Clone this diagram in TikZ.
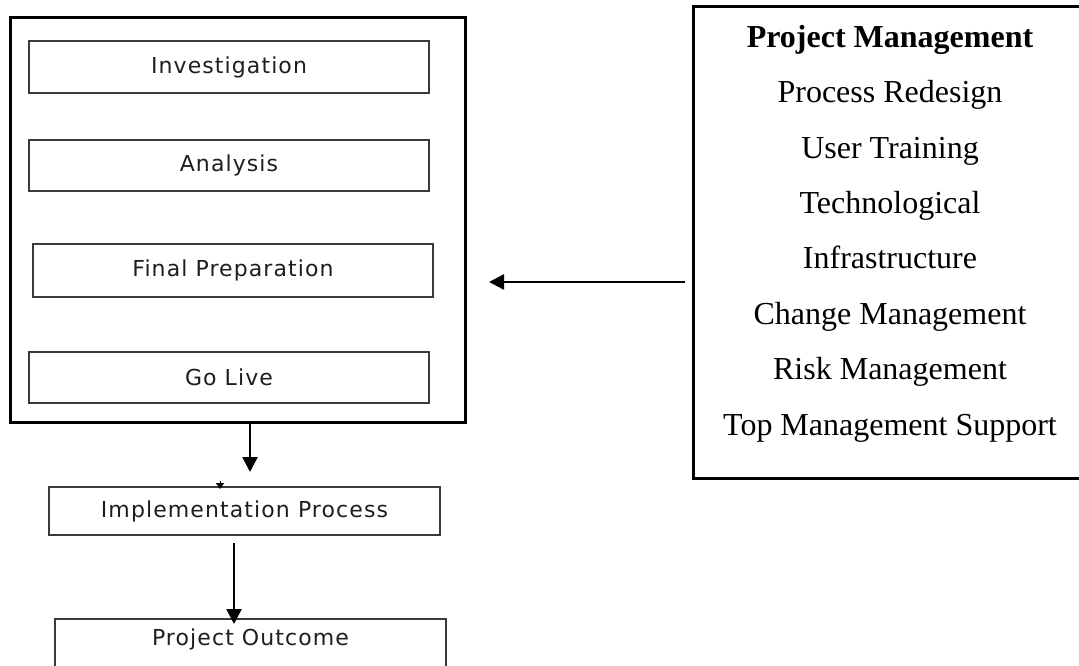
\documentclass[tikz,border=0pt]{standalone}
\usepackage{fontspec}
\setmainfont{Liberation Serif}
\newfontfamily\stagefont[LetterSpace=5]{DejaVu Sans}
\usetikzlibrary{arrows.meta,calc}
\definecolor{stageline}{HTML}{3A3A3A}
\definecolor{stagetext}{HTML}{1E1E1E}
\begin{document}
\begin{tikzpicture}[x=1pt,y=-1pt,
  stagebox/.style={draw=stageline, line width=2pt, inner sep=0pt,
    text=stagetext, font=\stagefont\fontsize{22}{26}\selectfont},
  stagelabel/.style={inner sep=0pt, text=stagetext,
    font=\stagefont\fontsize{22}{26}\selectfont},
  framebox/.style={draw=black, line width=3pt, inner sep=0pt},
  factor/.style={anchor=base, inner sep=0pt, font=\fontsize{32}{38}\selectfont},
  arr/.style={draw=black, line width=2.5pt, -{Triangle[length=15pt,width=15pt]}},
  smallarr/.style={draw=black, line width=1pt, -{Triangle[length=6pt,width=8pt]}}]
\useasboundingbox (0,0) rectangle (1079,666);
\clip (0,0) rectangle (1079,666);

% implementation phases
\node[framebox, minimum width=455pt, minimum height=404pt] (outer) at (237.5,220) {};
\node[stagebox, minimum width=400pt, minimum height=52pt] (inv) at (229,67) {Investigation};
\node[stagebox, minimum width=400pt, minimum height=51pt] (ana) at (229,165.5) {Analysis};
\node[stagebox, minimum width=400pt, minimum height=53pt] (fin) at (233,270.5) {Final Preparation};
\node[stagebox, minimum width=400pt, minimum height=51pt] (go) at (229,377.5) {Go Live};

% process and outcome
\node[stagebox, minimum width=391pt, minimum height=48pt] (impl) at (244.5,511) {Implementation Process};
\node[stagebox, minimum width=391pt, minimum height=100pt] (outc) at (250.5,669) {};
\node[stagelabel] (outclabel) at ($(outc.north)+(0,21)$) {Project Outcome};

% critical success factors
\node[framebox, minimum width=397pt, minimum height=471pt] (pm) at (891.5,242.5) {};
\node[factor, font=\fontsize{32}{38}\selectfont\bfseries] (f0) at (890,48) {Project Management};
\node[factor] (f1) at (890,103) {Process Redesign};
\node[factor] (f2) at (890,158) {User Training};
\node[factor] (f3) at (890,213) {Technological};
\node[factor] (f4) at (890,268) {Infrastructure};
\node[factor] (f5) at (890,324) {Change Management};
\node[factor] (f6) at (890,379) {Risk Management};
\node[factor] (f7) at (890,435) {Top Management Support};

% connectors
\coordinate (a1) at (250,472);
\draw[arr] (outer.south -| a1) -- (a1);
\coordinate (a2s) at ($(impl.south -| 234,0)+(0,7)$);
\coordinate (a2e) at ($(outc.north -| 234,0)+(0,6)$);
\draw[arr] (a2s) -- (a2e);
\coordinate (la) at (685,282);
\coordinate (lb) at (489,282);
\draw[arr] (la) -- (lb);
\coordinate (sa) at ($(impl.north -| 220,0)+(0,-5)$);
\draw[smallarr] (sa) -- ($(impl.north -| 220,0)+(0,3)$);
\end{tikzpicture}
\end{document}
